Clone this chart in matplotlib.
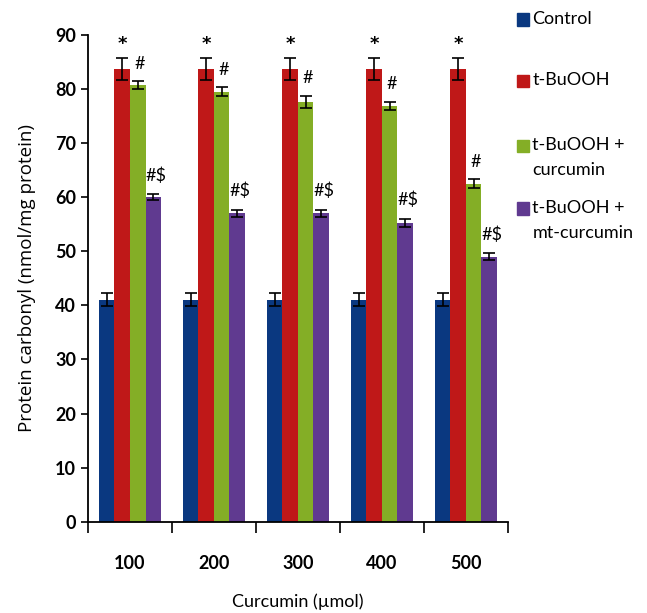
import numpy as np
import matplotlib
matplotlib.use('Agg')
from matplotlib import pyplot as plt
from matplotlib.patches import Rectangle

plt.rcParams['font.family'] = ['Lato', 'DejaVu Sans']

# data
doses = ['100', '200', '300', '400', '500']
series = ['Control', 't-BuOOH', 't-BuOOH +\ncurcumin', 't-BuOOH +\nmt-curcumin']
control = [41, 41, 41, 41, 41]
control_err = [1.2, 1.2, 1.2, 1.2, 1.2]
tbuooh = [83.7, 83.7, 83.7, 83.7, 83.7]
tbuooh_err = [2.0, 2.0, 2.0, 2.0, 2.0]
curcumin = [80.7, 79.5, 77.6, 76.9, 62.5]
curcumin_err = [0.7, 0.8, 1.2, 0.7, 0.8]
mt_curcumin = [60.0, 57.0, 57.0, 55.2, 49.0]
mt_curcumin_err = [0.5, 0.7, 0.7, 0.8, 0.6]
red_mark = '*'
green_mark = '#'
purple_mark = '#$'

colors = ['#0A3880', '#BF1818', '#84AE26', '#603A90']
values = [control, tbuooh, curcumin, mt_curcumin]
errs = [control_err, tbuooh_err, curcumin_err, mt_curcumin_err]

fig = plt.figure(figsize=(6.47, 6.13), dpi=100)
ax = fig.add_axes([0.136, 0.149, 0.649, 0.794])

x = np.arange(len(doses)) + 0.5
w = 0.185
for j in range(4):
    ax.bar(x + (j - 1.5) * w, values[j], w, color=colors[j],
           yerr=errs[j], capsize=4, error_kw=dict(ecolor='black', elinewidth=1.2, capthick=1.2))

# significance marks
for i in range(len(doses)):
    ax.text(x[i] - 0.5 * w, tbuooh[i] + tbuooh_err[i] + 0.9, red_mark,
            ha='center', va='bottom', fontsize=13, family='DejaVu Sans', fontweight='bold')
    ax.text(x[i] + 0.5 * w + 0.02, curcumin[i] + curcumin_err[i] + 1.8, green_mark,
            ha='center', va='bottom', fontsize=13)
    ax.text(x[i] + 1.5 * w + 0.03, mt_curcumin[i] + mt_curcumin_err[i] + 2.0, purple_mark,
            ha='center', va='bottom', fontsize=13)

ax.set_xlim(0, 5)
ax.set_ylim(0, 90)
ax.set_yticks(np.arange(0, 91, 10))
ax.set_xticks(np.arange(0, 6))
ax.set_xticklabels([])
ax.set_xticks(x, minor=True)
ax.set_xticklabels(doses, minor=True, fontsize=13, fontweight='bold')
ax.tick_params(axis='x', which='minor', length=0, pad=24)
ax.tick_params(axis='x', which='major', length=8, width=1.2, direction='out')
ax.tick_params(axis='y', length=5, width=1.2, labelsize=13)
for lab in ax.get_yticklabels():
    lab.set_fontweight('bold')
ax.spines['top'].set_visible(False)
ax.spines['right'].set_visible(False)
ax.spines['left'].set_linewidth(1.3)
ax.spines['bottom'].set_linewidth(1.3)

ax.set_ylabel('Protein carbonyl (nmol/mg protein)', fontsize=13.5, labelpad=14,
              family=['Open Sans', 'DejaVu Sans'])
fig.text(0.46, 0.005, 'Curcumin (µmol)', ha='center', va='bottom', fontsize=13)

# legend drawn by hand: square aligned with the first text line
leg_y = [0.969, 0.869, 0.763, 0.661]
for c, lab, ly in zip(colors, series, leg_y):
    fig.patches.append(Rectangle((0.799, ly - 0.011), 0.019, 0.02, color=c,
                                 transform=fig.transFigure, figure=fig))
    fig.text(0.823, ly + 0.013, lab, ha='left', va='top', fontsize=13, linespacing=1.7)

fig.savefig('out.png', dpi=100)
